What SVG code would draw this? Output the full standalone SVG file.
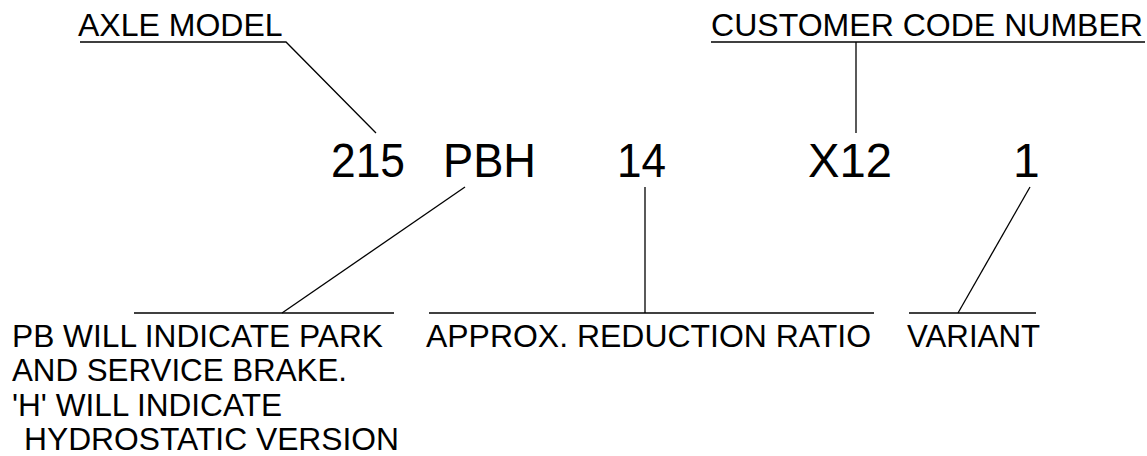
<svg xmlns="http://www.w3.org/2000/svg" width="1147" height="456" viewBox="0 0 1147 456">
  <style>
    .lbl { font-family: "Liberation Sans", Arial, sans-serif; font-size: 32px; fill: #000; }
    .note { font-family: "Liberation Sans", Arial, sans-serif; font-size: 31px; fill: #000; }
    .code { font-family: "Liberation Sans", Arial, sans-serif; font-size: 48px; fill: #000; }
    .ln { stroke: #000; stroke-width: 1.3; fill: none; }
  </style>
  <rect width="1147" height="456" fill="#fff"/>

  <g id="connectors">
    <polyline class="ln" points="80,42 286,42 376,133"/>
    <line class="ln" x1="711" y1="42" x2="1145" y2="42"/>
    <line class="ln" x1="856" y1="42" x2="856" y2="133"/>
    <line class="ln" x1="465" y1="187" x2="282" y2="313"/>
    <line class="ln" x1="134" y1="313" x2="394" y2="313"/>
    <line class="ln" x1="645" y1="187" x2="645" y2="313"/>
    <line class="ln" x1="429" y1="313" x2="874" y2="313"/>
    <line class="ln" x1="1030" y1="187" x2="958" y2="313"/>
    <line class="ln" x1="909" y1="313" x2="1036" y2="313"/>
  </g>

  <g id="axle-model">
    <text class="lbl" x="78" y="36">AXLE MODEL</text>
  </g>
  <g id="customer-code-number">
    <text class="lbl" x="711" y="36" textLength="432" lengthAdjust="spacingAndGlyphs">CUSTOMER CODE NUMBER</text>
  </g>

  <g id="code-215">
    <text class="code" x="331" y="177" textLength="74" lengthAdjust="spacingAndGlyphs">215</text>
  </g>
  <g id="code-pbh">
    <text class="code" x="443" y="177" textLength="93" lengthAdjust="spacingAndGlyphs">PBH</text>
  </g>
  <g id="code-14">
    <text class="code" x="617" y="177" textLength="49" lengthAdjust="spacingAndGlyphs">14</text>
  </g>
  <g id="code-x12">
    <text class="code" x="808" y="177" textLength="84" lengthAdjust="spacingAndGlyphs">X12</text>
  </g>
  <g id="code-1">
    <text class="code" x="1013" y="177">1</text>
  </g>

  <g id="brake-note">
    <text class="note" x="12" y="346.5" textLength="371" lengthAdjust="spacingAndGlyphs">PB WILL INDICATE PARK</text>
    <text class="note" x="12" y="381" textLength="335" lengthAdjust="spacingAndGlyphs">AND SERVICE BRAKE.</text>
    <text class="note" x="12" y="415.5" textLength="270" lengthAdjust="spacingAndGlyphs">'H' WILL INDICATE</text>
    <text class="note" x="24" y="449.5" textLength="375" lengthAdjust="spacingAndGlyphs">HYDROSTATIC VERSION</text>
  </g>
  <g id="reduction-ratio">
    <text class="lbl" x="426" y="347" textLength="445" lengthAdjust="spacingAndGlyphs">APPROX. REDUCTION RATIO</text>
  </g>
  <g id="variant">
    <text class="lbl" x="907" y="347" textLength="133" lengthAdjust="spacingAndGlyphs">VARIANT</text>
  </g>
</svg>
